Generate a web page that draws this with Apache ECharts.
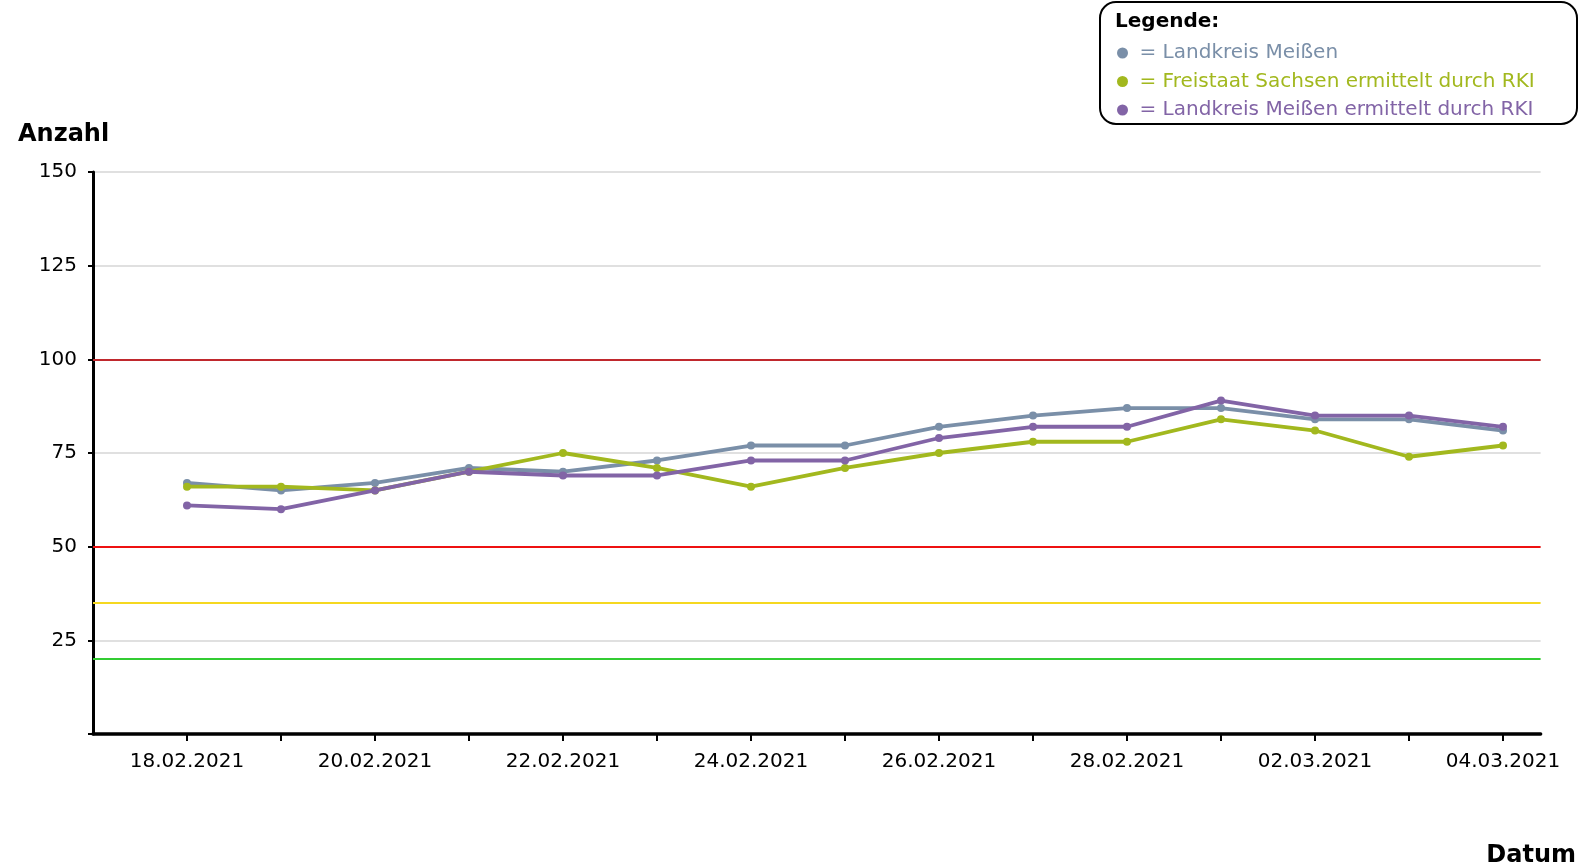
<!DOCTYPE html>
<html>
<head>
<meta charset="utf-8">
<script src="https://cdn.jsdelivr.net/npm/echarts@6/dist/echarts.min.js"></script>
<style>
  html, body { margin: 0; padding: 0; background: #fff; }
  #chart { width: 1584px; height: 868px; }
</style>
</head>
<body>
<div id="chart"></div>
<script>
const dates = ['18.02.2021','19.02.2021','20.02.2021','21.02.2021','22.02.2021','23.02.2021','24.02.2021','25.02.2021','26.02.2021','27.02.2021','28.02.2021','01.03.2021','02.03.2021','03.03.2021','04.03.2021'];
const landkreisMeissen = [67,65,67,71,70,73,77,77,82,85,87,87,84,84,81];
const freistaatSachsenRKI = [66,66,65,70,75,71,66,71,75,78,78,84,81,74,77];
const landkreisMeissenRKI = [61,60,65,70,69,69,73,73,79,82,82,89,85,85,82];
const seriesNames = ['Landkreis Meißen','Freistaat Sachsen ermittelt durch RKI','Landkreis Meißen ermittelt durch RKI'];
const yTicks = [0,25,50,75,100,125,150];
const thresholds = [100, 50, 35, 20];

const FONT = "Verdana, 'DejaVu Sans', sans-serif";
const colors = ['#7a8fa8', '#a2b81e', '#8264a6'];
const thresholdColors = ['#c0282d', '#ee1111', '#f5d820', '#33cc33'];

const tickIdx = dates.map((d, i) => i);
const labelIdx = dates.map((d, i) => i).filter(i => i % 2 === 0);

function toPts(arr) { return arr.map((v, i) => [i, v]); }

const chart = echarts.init(document.getElementById('chart'), null, { renderer: 'canvas' });

const allData = [landkreisMeissen, freistaatSachsenRKI, landkreisMeissenRKI];

const option = {
  backgroundColor: '#ffffff',
  animation: false,
  textStyle: { fontFamily: FONT },
  title: [
    { text: 'Anzahl', left: 18, top: 123, padding: 0, textStyle: { fontFamily: FONT, fontSize: 24, fontWeight: 'bold', color: '#000' } },
    { text: 'Datum', right: 8, top: 844, padding: 0, textStyle: { fontFamily: FONT, fontSize: 24, fontWeight: 'bold', color: '#000' } },
    { text: 'Legende:', left: 1115, top: 12, padding: 0, textStyle: { fontFamily: FONT, fontSize: 20, fontWeight: 'bold', color: '#000' } }
  ],
  graphic: [
    { type: 'rect', z: -1, shape: { x: 1100, y: 2, width: 477, height: 122, r: 16 },
      style: { fill: '#fff', stroke: '#000', lineWidth: 2 } }
  ],
  legend: {
    orient: 'vertical',
    left: 1112,
    top: 38,
    itemWidth: 24,
    itemHeight: 11,
    itemGap: 8.5,
    icon: 'circle',
    selectedMode: false,
    formatter: name => '= ' + name,
    data: seriesNames.map((n, i) => ({ name: n, textStyle: { color: colors[i] } })),
    textStyle: { fontFamily: FONT, fontSize: 20, lineHeight: 20 }
  },
  grid: { left: 93, right: 43.4, top: 172, bottom: 134, containLabel: false },
  xAxis: {
    type: 'value',
    min: -1,
    max: 14.4,
    axisLine: { show: true, lineStyle: { color: '#000', width: 3.5 } },
    axisTick: { show: true, customValues: tickIdx, length: 7, lineStyle: { color: '#000', width: 2 } },
    axisLabel: { show: true, customValues: labelIdx, margin: 18, fontSize: 20, color: '#000', fontFamily: FONT,
      formatter: v => dates[Math.round(v)] || '' },
    splitLine: { show: false }
  },
  yAxis: {
    type: 'value',
    min: 0,
    max: 150,
    interval: 25,
    axisLine: { show: true, onZero: false, lineStyle: { color: '#000', width: 3 } },
    axisTick: { show: true, length: 5, lineStyle: { color: '#000', width: 2 } },
    axisLabel: { margin: 16, fontSize: 20, color: '#000', fontFamily: FONT,
      formatter: v => (v === 0 ? '' : String(v)) },
    splitLine: { show: true, lineStyle: { color: '#e0e0e0', width: 2 } }
  },
  series: [
    {
      type: 'line', name: '_thresholds', data: [], silent: true, z: 1,
      markLine: {
        silent: true, symbol: 'none', animation: false,
        label: { show: false },
        data: thresholds.map((t, i) => ({ yAxis: t, lineStyle: { color: thresholdColors[i], width: 2, type: 'solid' } }))
      }
    }
  ].concat(allData.map((arr, i) => ({
    type: 'line',
    name: seriesNames[i],
    data: toPts(arr),
    z: 3 + i,
    symbol: 'circle',
    symbolSize: 8,
    showSymbol: true,
    lineStyle: { color: colors[i], width: 3.8 },
    itemStyle: { color: colors[i] },
    emphasis: { disabled: true }
  })))
};

chart.setOption(option);
</script>
</body>
</html>
